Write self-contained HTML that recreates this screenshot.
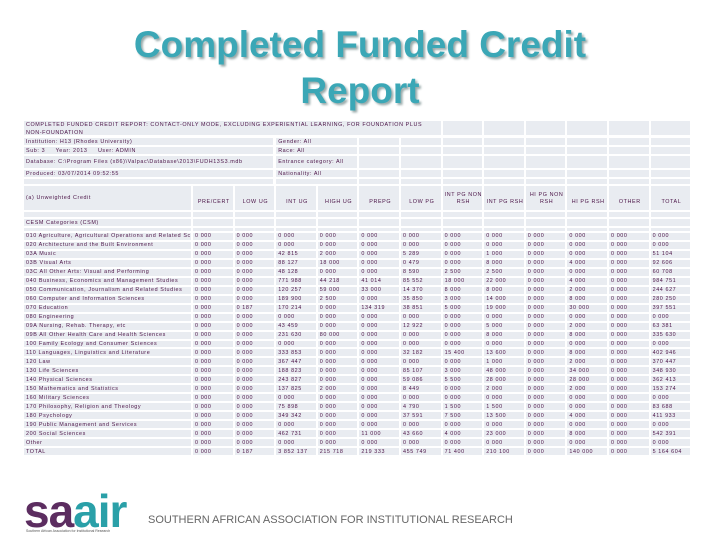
<!DOCTYPE html>
<html><head><meta charset="utf-8">
<style>
body{margin:0;width:720px;height:540px;background:#fff;position:relative;overflow:hidden;font-family:"Liberation Sans",sans-serif}
#title{position:absolute;left:0;top:22px;width:720px;text-align:center;font-weight:bold;font-size:37px;line-height:46px;color:#3ba7b6;text-shadow:2px 2px 2px #9aa;}
.c{position:absolute;background:#e9ecf1;font-size:5.4px;color:#4a1246;letter-spacing:0.6px;white-space:nowrap;overflow:hidden;box-sizing:border-box;padding-left:2px;display:flex;align-items:center}
.h{justify-content:center;text-align:center;line-height:7px}
#logo{position:absolute;left:24px;top:488px;font-size:46px;font-weight:bold;letter-spacing:-1px;line-height:46px}
#logo .sa{color:#5c2d60}#logo .air{color:#2aa0a8}
#logosub{position:absolute;left:26px;top:529px;font-size:3.5px;color:#555}
#footer{position:absolute;left:148px;top:514px;font-size:11px;color:#666}
</style></head><body>
<div id="title">Completed Funded Credit<br>Report</div>
<div id="grid"></div>
<div id="logo"><span class="sa">sa</span><span class="air">air</span></div>
<div id="logosub">Southern African Association for Institutional Research</div>
<div id="footer">SOUTHERN AFRICAN ASSOCIATION FOR INSTITUTIONAL RESEARCH</div>
<script>
const columns=["PRE/CERT","LOW UG","INT UG","HIGH UG","PREPG","LOW PG","INT PG NON RSH","INT PG RSH","HI PG NON RSH","HI PG RSH","OTHER","TOTAL"];
const categories=["010 Agriculture, Agricultural Operations and Related Sciences","020 Architecture and the Built Environment","03A Music","03B Visual Arts","03C All Other Arts: Visual and Performing","040  Business,  Economics and Management Studies","050  Communication, Journalism and Related Studies","060 Computer and Information Sciences","070  Education","080 Engineering","09A Nursing, Rehab. Therapy, etc","09B All Other Health Care and Health Sciences","100 Family Ecology and Consumer Sciences","110 Languages, Linguistics and Literature","120 Law","130 Life Sciences","140 Physical Sciences","150 Mathematics and Statistics","160 Military Sciences","170 Philosophy, Religion and Theology","180 Psychology","190 Public Management and Services","200 Social Sciences","Other","TOTAL"];
const values=[
[0,0,0,0,0,0,0,0,0,0,0,0],
[0,0,0,0,0,0,0,0,0,0,0,0],
[0,0,42.815,2,0,5.289,0,1,0,0,0,51.104],
[0,0,88.127,18,0,0.479,0,8,0,4,0,92.606],
[0,0,48.128,0,0,8.59,2.5,2.5,0,0,0,60.708],
[0,0,771.988,44.218,41.014,85.552,18,22,0,4,0,984.751],
[0,0,120.257,59,33,14.37,8,8,0,2,0,244.627],
[0,0,189.9,2.5,0,35.85,3,14,0,8,0,280.25],
[0,0.187,170.214,0,134.319,38.851,5,19,0,30,0,397.551],
[0,0,0,0,0,0,0,0,0,0,0,0],
[0,0,43.459,0,0,12.922,0,5,0,2,0,63.381],
[0,0,231.63,80,0,0,0,8,0,8,0,335.63],
[0,0,0,0,0,0,0,0,0,0,0,0],
[0,0,333.853,0,0,32.182,15.4,13.6,0,8,0,402.946],
[0,0,367.447,0,0,0,0,1,0,2,0,370.447],
[0,0,188.823,0,0,85.107,3,48,0,34,0,348.93],
[0,0,243.827,0,0,59.086,5.5,28,0,28,0,362.413],
[0,0,137.825,2,0,8.449,0,2,0,2,0,153.274],
[0,0,0,0,0,0,0,0,0,0,0,0],
[0,0,75.898,0,0,4.79,1.5,1.5,0,0,0,83.688],
[0,0,349.342,0,0,37.591,7.5,13.5,0,4,0,411.933],
[0,0,0,0,0,0,0,0,0,0,0,0],
[0,0,462.731,0,11,43.66,4,23,0,8,0,542.391],
[0,0,0,0,0,0,0,0,0,0,0,0],
[0,0.187,3852.137,215.718,219.333,455.749,71.4,210.1,0,140,0,5164.604]];
const g=document.getElementById('grid');
const X0=24,LW=168,CX=193,CW=41.6;
function fmt(v){let s=v.toFixed(3).split('.');let i=s[0].replace(/\B(?=(\d{3})+(?!\d))/g,' ');return i+' '+s[1];}
function cell(x,y,w,h,t,name,cls){const d=document.createElement('div');d.className='c'+(cls?' '+cls:'');
d.style.left=x+'px';d.style.top=y+'px';d.style.width=(w-2)+'px';d.style.height=(h-2)+'px';d.innerHTML=t||'';


g.appendChild(d);return d;}
function blankRow(y,h,startCol){for(let j=startCol;j<12;j++)cell(CX+j*CW,y,CW,h,'','empty-cell');}
let d=cell(X0,121,CX+CW*6-X0,16,'COMPLETED FUNDED CREDIT REPORT: CONTACT-ONLY MODE, EXCLUDING EXPERIENTIAL LEARNING, FOR FOUNDATION PLUS<br>NON-FOUNDATION','report-description');d.style.alignItems='flex-start';d.style.lineHeight='8px';
blankRow(121,16,6);
const info=[[138,9,'Institution: H13 (Rhodes University)','Gender: All'],[147,9,'Sub: 3 &nbsp;&nbsp;&nbsp; Year: 2013 &nbsp;&nbsp;&nbsp; User: ADMIN','Race: All'],[156,14,'Database: C:\\Program Files (x86)\\Valpac\\Database\\2013\\FUDH13S3.mdb','Entrance category: All'],[170,9,'Produced: 03/07/2014 09:52:55','Nationality: All'],[179,7,'','']];
info.forEach((r,i)=>{cell(X0,r[0],LW+CW*2,r[1],r[2],'info-row-'+i);cell(CX+CW*2,r[0],CW*2,r[1],r[3],'filter-'+i);for(let j=4;j<12;j++)cell(CX+j*CW,r[0],CW,r[1],'','empty-cell');});
cell(X0,186,LW+1,26,'(a) Unweighted Credit','unit-label');
columns.forEach((c,j)=>{const e=cell(CX+j*CW,186,CW,26,c.replace(' NON ',' NON<br>'),'column-header','h');e.style.alignItems='flex-end';e.style.paddingBottom='4px';});
cell(X0,212,LW+1,7,'','empty-cell');blankRow(212,7,0);
cell(X0,219,LW+1,9,'CESM Categories (CSM)','cesm-heading');blankRow(219,9,0);
cell(X0,228,LW+1,5,'','empty-cell');blankRow(228,5,0);
const Y0=233;
const rh=(457-233)/categories.length;
categories.forEach((c,i)=>{const y=Y0+i*rh;cell(X0,y,LW+1,rh,c,'category-label');
values[i].forEach((v,j)=>cell(CX+j*CW,y,CW,rh,fmt(v),'value-cell'));});
</script>
</body></html>
